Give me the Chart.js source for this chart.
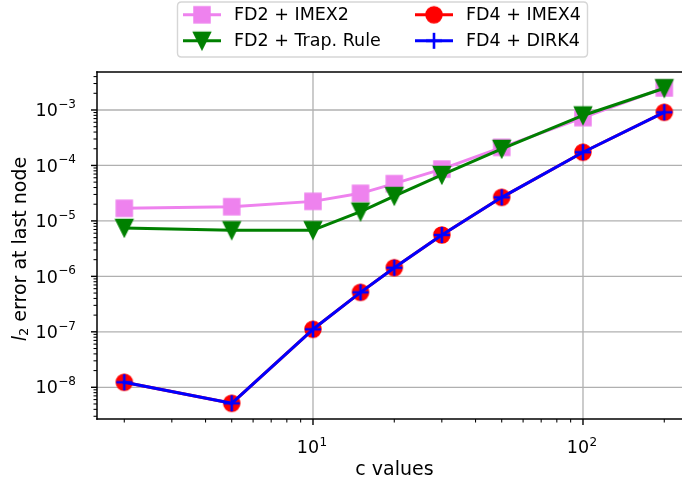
<!DOCTYPE html>
<html>
<head>
<meta charset="utf-8">
<script src="https://cdn.jsdelivr.net/npm/chart.js@4.4.0/dist/chart.umd.min.js"></script>
<style>
  html, body { margin: 0; padding: 0; background: #ffffff; overflow: hidden; }
  canvas { display: block; }
</style>
</head>
<body>
<canvas id="chart" width="682" height="484"></canvas>
<script>
// c values (x) and the l2 error at the last node for each scheme
const cValues   = [2, 5, 10, 15, 20, 30, 50, 100, 200];
const fd2Imex2  = [1.69e-5, 1.80e-5, 2.25e-5, 3.14e-5, 4.69e-5, 8.6e-5, 2.12e-4, 7.3e-4, 2.5e-3];
const fd2Trap   = [7.45e-6, 6.76e-6, 6.8e-6, 1.47e-5, 2.81e-5, 6.73e-5, 1.98e-4, 7.96e-4, 2.47e-3];
const fd4Imex4  = [1.23e-8, 5.14e-9, 1.11e-7, 5.15e-7, 1.43e-6, 5.57e-6, 2.66e-5, 1.73e-4, 9.1e-4];
const fd4Dirk4  = [1.23e-8, 5.14e-9, 1.11e-7, 5.15e-7, 1.43e-6, 5.57e-6, 2.66e-5, 1.73e-4, 9.1e-4];

const seriesLabels = ['FD2 + IMEX2', 'FD2 + Trap. Rule', 'FD4 + IMEX4', 'FD4 + DIRK4'];
const xMajorExponents = [1, 2];
const yMajorExponents = [-3, -4, -5, -6, -7, -8];
const xTitle = 'c values';
const yTitleRest = ' error at last node';

// axis limits (log10)
const X_LOG_MIN = 0.2, X_LOG_MAX = 2.3667;
const Y_LOG_MIN = -8.572, Y_LOG_MAX = -2.315;

const FONT = '"DejaVu Sans", "Liberation Sans", sans-serif';
const COLORS = { violet: '#ee82ee', green: '#008000', red: '#ff0000', blue: '#0000ff' };

// marker sprites
function makeMarker(kind, color) {
  const s = 28, m = s / 2;
  const c = document.createElement('canvas');
  c.width = s; c.height = s;
  const g = c.getContext('2d');
  g.fillStyle = color; g.strokeStyle = color; g.lineWidth = 1.5; g.lineJoin = 'miter';
  g.beginPath();
  if (kind === 'square') {
    g.rect(m - 8, m - 8, 16, 16);
    g.fill(); g.stroke();
  } else if (kind === 'tri_down') {
    g.moveTo(m - 8.5, m - 8.5);
    g.lineTo(m + 8.5, m - 8.5);
    g.lineTo(m, m + 8.5);
    g.closePath();
    g.fill(); g.stroke();
  } else if (kind === 'circle') {
    g.arc(m, m, 8, 0, Math.PI * 2);
    g.fill(); g.stroke();
  } else if (kind === 'plus') {
    g.lineWidth = 2.6; g.lineCap = 'butt';
    g.moveTo(m - 8, m); g.lineTo(m + 8, m);
    g.moveTo(m, m - 8); g.lineTo(m, m + 8);
    g.stroke();
  }
  return c;
}

const markers = [
  makeMarker('square', COLORS.violet),
  makeMarker('tri_down', COLORS.green),
  makeMarker('circle', COLORS.red),
  makeMarker('plus', COLORS.blue)
];
const lineColors = [COLORS.violet, COLORS.green, COLORS.red, COLORS.blue];
const seriesValues = [fd2Imex2, fd2Trap, fd4Imex4, fd4Dirk4];

const datasets = seriesValues.map((vals, i) => ({
  label: seriesLabels[i],
  data: cValues.map((c, j) => ({ x: c, y: vals[j] })),
  borderColor: lineColors[i],
  backgroundColor: lineColors[i],
  borderWidth: 3,
  borderJoinStyle: 'round',
  borderCapStyle: 'square',
  tension: 0,
  pointStyle: markers[i],
  pointRadius: 9,
  pointHoverRadius: 9,
  clip: false,
  order: 4 - i
}));

function line(ctx, x1, y1, x2, y2) {
  ctx.beginPath(); ctx.moveTo(x1, y1); ctx.lineTo(x2, y2); ctx.stroke();
}

// "10" with a superscript exponent; anchor: 'right' or 'center'
function drawPower(ctx, exp, x, baseY, supRaise, anchor) {
  const expText = exp < 0 ? '\u2212' + Math.abs(exp) : String(exp);
  ctx.font = '17.5px ' + FONT;
  const wb = ctx.measureText('10').width;
  ctx.font = '12px ' + FONT;
  const ws = ctx.measureText(expText).width;
  const total = wb + ws + 0.5;
  let x0 = anchor === 'right' ? x - total : x - total / 2;
  ctx.textAlign = 'left'; ctx.textBaseline = 'alphabetic';
  ctx.fillStyle = '#000';
  ctx.font = '17.5px ' + FONT;
  ctx.fillText('10', x0, baseY);
  ctx.font = '12px ' + FONT;
  ctx.fillText(expText, x0 + wb + 0.5, baseY - supRaise);
}

const mplAxes = {
  id: 'mplAxes',
  beforeDraw(chart) {
    const ctx = chart.ctx;
    ctx.save();
    ctx.fillStyle = '#ffffff';
    ctx.fillRect(0, 0, chart.width, chart.height);
    ctx.restore();
  },
  beforeDatasetsDraw(chart) {
    const { ctx, chartArea: a, scales: { x, y } } = chart;
    ctx.save();
    ctx.strokeStyle = '#b0b0b0';
    ctx.lineWidth = 1.3;
    xMajorExponents.forEach(e => {
      const px = x.getPixelForValue(Math.pow(10, e));
      line(ctx, px, a.top, px, a.bottom);
    });
    yMajorExponents.forEach(e => {
      const py = y.getPixelForValue(Math.pow(10, e));
      line(ctx, a.left, py, a.right, py);
    });
    ctx.restore();
  },
  afterDatasetsDraw(chart) {
    const { ctx, chartArea: a, scales: { x, y } } = chart;
    ctx.save();

    // spines
    ctx.strokeStyle = '#000';
    ctx.lineWidth = 1.5;
    ctx.lineCap = 'square';
    line(ctx, a.left, a.top, a.left, a.bottom);
    line(ctx, a.left, a.bottom, a.right + 2, a.bottom);
    line(ctx, a.left, a.top, a.right + 2, a.top);
    ctx.lineCap = 'butt';

    // x ticks
    for (let d = 0; d <= 2; d++) {
      for (let k = 1; k <= 9; k++) {
        const v = k * Math.pow(10, d);
        const lv = Math.log10(v);
        if (lv < X_LOG_MIN || lv > X_LOG_MAX) continue;
        const px = x.getPixelForValue(v);
        ctx.lineWidth = k === 1 ? 1.4 : 1.05;
        line(ctx, px, a.bottom, px, a.bottom + (k === 1 ? 6 : 3.5));
      }
    }
    // y ticks
    for (let d = -9; d <= -3; d++) {
      for (let k = 1; k <= 9; k++) {
        const v = k * Math.pow(10, d);
        const lv = Math.log10(v);
        if (lv < Y_LOG_MIN || lv > Y_LOG_MAX) continue;
        const py = y.getPixelForValue(v);
        ctx.lineWidth = k === 1 ? 1.4 : 1.05;
        line(ctx, a.left - (k === 1 ? 6 : 3.5), py, a.left, py);
      }
    }

    // tick labels
    xMajorExponents.forEach(e => {
      const px = x.getPixelForValue(Math.pow(10, e));
      drawPower(ctx, e, px - 1, a.bottom + 34.3, 7, 'center');
    });
    yMajorExponents.forEach(e => {
      const py = y.getPixelForValue(Math.pow(10, e));
      drawPower(ctx, e, a.left - 21, py + 6.2, 8.2, 'right');
    });

    // axis titles
    ctx.fillStyle = '#000';
    ctx.font = '19px ' + FONT;
    ctx.textAlign = 'center';
    ctx.textBaseline = 'alphabetic';
    ctx.fillText(xTitle, 394.5, 474.5);

    ctx.save();
    ctx.translate(25.5, 249);
    ctx.rotate(-Math.PI / 2);
    ctx.textAlign = 'left';
    ctx.font = 'italic 19px ' + FONT;
    const wl = ctx.measureText('l').width;
    ctx.font = '13px ' + FONT;
    const w2 = ctx.measureText('2').width;
    ctx.font = '19px ' + FONT;
    const wr = ctx.measureText(yTitleRest).width;
    const total = wl + w2 + wr;
    let tx = -total / 2;
    ctx.font = 'italic 19px ' + FONT;
    ctx.fillText('l', tx, 0);
    tx += wl;
    ctx.font = '13px ' + FONT;
    ctx.fillText('2', tx, 2.5);
    tx += w2;
    ctx.font = '19px ' + FONT;
    ctx.fillText(yTitleRest, tx, 0);
    ctx.restore();

    // legend
    const lx = 177.5, ly = 2, lw = 410, lh = 55, r = 4;
    ctx.beginPath();
    ctx.moveTo(lx + r, ly);
    ctx.lineTo(lx + lw - r, ly);
    ctx.quadraticCurveTo(lx + lw, ly, lx + lw, ly + r);
    ctx.lineTo(lx + lw, ly + lh - r);
    ctx.quadraticCurveTo(lx + lw, ly + lh, lx + lw - r, ly + lh);
    ctx.lineTo(lx + r, ly + lh);
    ctx.quadraticCurveTo(lx, ly + lh, lx, ly + lh - r);
    ctx.lineTo(lx, ly + r);
    ctx.quadraticCurveTo(lx, ly, lx + r, ly);
    ctx.closePath();
    ctx.fillStyle = 'rgba(255,255,255,0.8)';
    ctx.fill();
    ctx.strokeStyle = 'rgba(204,204,204,0.8)';
    ctx.lineWidth = 1.4;
    ctx.stroke();

    const cols = [{ x0: 183, x1: 221, tx: 234 }, { x0: 415, x1: 453, tx: 466 }];
    const rows = [14.8, 40.8];
    seriesLabels.forEach((lab, i) => {
      const col = cols[Math.floor(i / 2)];
      const ry = rows[i % 2];
      ctx.strokeStyle = lineColors[i];
      ctx.lineWidth = 3;
      ctx.lineCap = 'butt';
      line(ctx, col.x0, ry, col.x1, ry);
      const mk = markers[i];
      const mx = (col.x0 + col.x1) / 2;
      ctx.drawImage(mk, mx - mk.width / 2, ry - mk.height / 2);
      ctx.fillStyle = '#000';
      ctx.font = '17.5px ' + FONT;
      ctx.textAlign = 'left';
      ctx.textBaseline = 'alphabetic';
      ctx.fillText(lab, col.tx, ry + 5.3);
    });

    ctx.restore();
  }
};

new Chart(document.getElementById('chart'), {
  type: 'line',
  data: { datasets },
  options: {
    responsive: false,
    animation: false,
    devicePixelRatio: 1,
    events: [],
    layout: { autoPadding: false, padding: { left: 97, top: 72, right: 0, bottom: 65 } },
    plugins: { legend: { display: false }, tooltip: { enabled: false } },
    scales: {
      x: { type: 'logarithmic', min: Math.pow(10, X_LOG_MIN), max: Math.pow(10, X_LOG_MAX), display: false },
      y: { type: 'logarithmic', min: Math.pow(10, Y_LOG_MIN), max: Math.pow(10, Y_LOG_MAX), display: false }
    }
  },
  plugins: [mplAxes]
});
</script>
</body>
</html>
